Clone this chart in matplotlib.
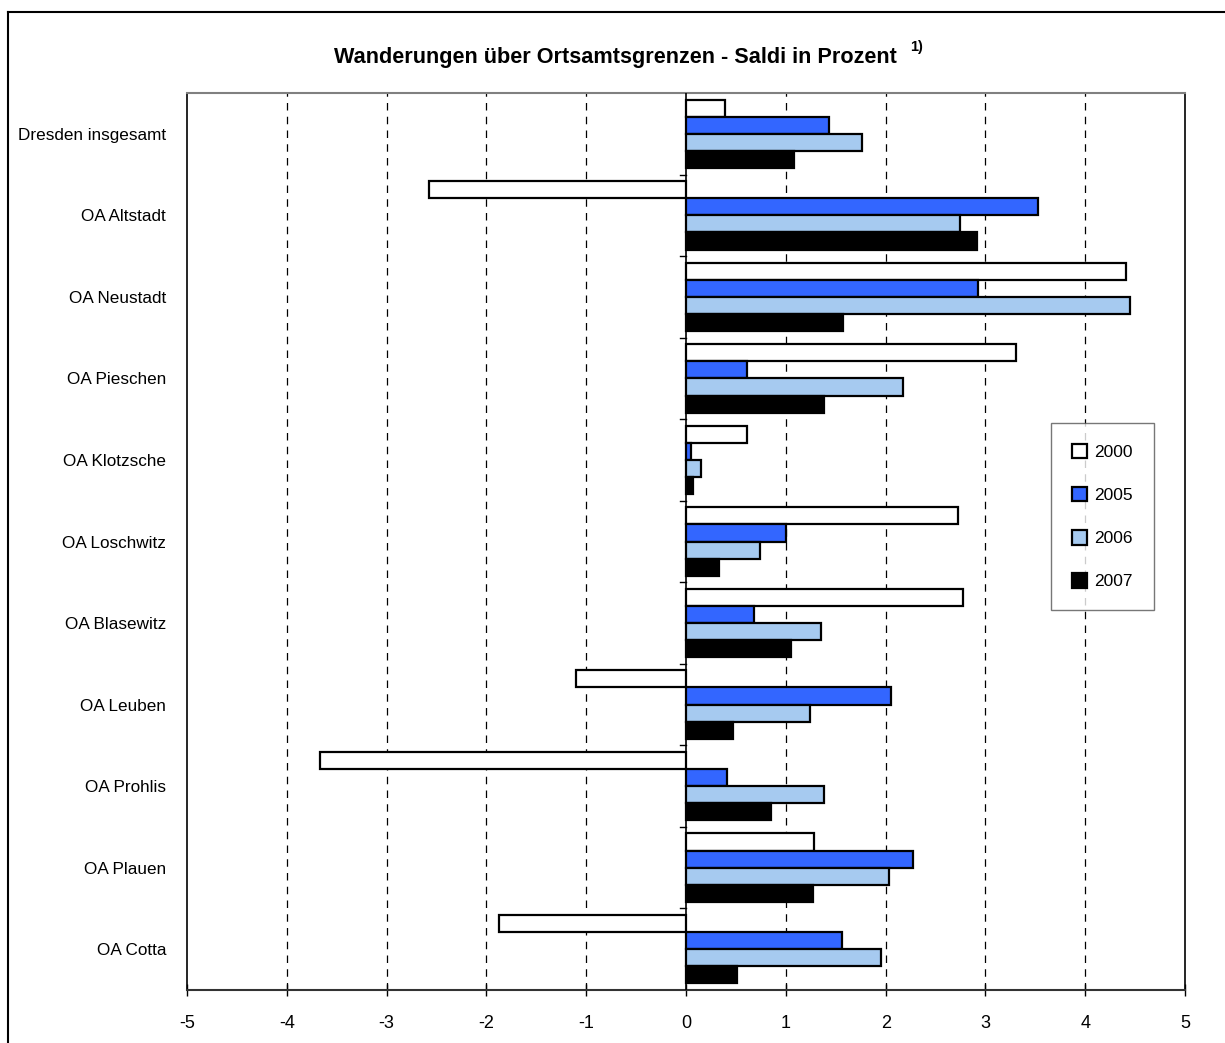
import numpy as np
import matplotlib.pyplot as plt
from matplotlib.lines import Line2D
from matplotlib.patches import Patch

plt.rcParams['font.family'] = ['Liberation Sans Narrow', 'Liberation Sans', 'DejaVu Sans']

# --- DATA ---
districts = ["Dresden insgesamt", "OA Altstadt", "OA Neustadt", "OA Pieschen",
             "OA Klotzsche", "OA Loschwitz", "OA Blasewitz", "OA Leuben",
             "OA Prohlis", "OA Plauen", "OA Cotta"]
years = ["2000", "2005", "2006", "2007"]
v2000 = [0.39, -2.58, 4.41, 3.31, 0.61, 2.72, 2.77, -1.10, -3.67, 1.28, -1.87]
v2005 = [1.43, 3.53, 2.93, 0.61, 0.05, 1.00, 0.68, 2.05, 0.41, 2.27, 1.56]
v2006 = [1.76, 2.74, 4.45, 2.17, 0.15, 0.74, 1.35, 1.24, 1.38, 2.03, 1.95]
v2007 = [1.08, 2.92, 1.57, 1.38, 0.07, 0.33, 1.05, 0.47, 0.85, 1.27, 0.51]
xticks = [-5, -4, -3, -2, -1, 0, 1, 2, 3, 4, 5]

series = [v2000, v2005, v2006, v2007]
colors = ["white", "#3366FF", "#A6CAF0", "black"]

fig = plt.figure(figsize=(12.25, 10.43), dpi=100)
ax = fig.add_axes([0.1527, 0.0508, 0.8147, 0.86])

# outer frame (left and top edges visible)
fig.add_artist(Line2D([0.0065, 0.0065], [0.0, 0.9885], color="black", lw=1.5, transform=fig.transFigure))
fig.add_artist(Line2D([0.0065, 1.0], [0.9885, 0.9885], color="black", lw=1.5, transform=fig.transFigure))

n = len(districts)
bar_h = 0.21
pos = np.arange(n)
for i, (vals, col) in enumerate(zip(series, colors)):
    y = pos - 1.5 * bar_h + i * bar_h
    ax.barh(y, vals, height=bar_h, color=col, edgecolor="black", linewidth=1.6, zorder=3)

# grid
for x in xticks[1:-1]:
    if x != 0:
        ax.axvline(x, color="black", linestyle=(0, (6, 5)), linewidth=0.9, zorder=1)
ax.axvline(0, color="black", linewidth=1.2, zorder=4)

ax.set_xlim(-5, 5)
ax.set_ylim(n - 0.5, -0.5)
ax.set_xticks(xticks)
ax.set_xticklabels([str(t) for t in xticks], fontsize=13)
ax.tick_params(axis="x", direction="inout", length=8, width=1, pad=14)

ax.set_yticks(pos)
ax.set_yticklabels(districts, fontsize=12.3)
ax.tick_params(axis="y", length=0, pad=15)

# small y ticks at category boundaries along zero line
for b in np.arange(0.5, n - 0.5, 1.0):
    ax.plot([-0.06, 0], [b, b], color="black", lw=1, zorder=4)

ax.spines["top"].set_color("#808080")
ax.spines["top"].set_linewidth(1.5)
ax.spines["left"].set_linewidth(1.2)
ax.spines["right"].set_linewidth(1.2)
ax.spines["bottom"].set_linewidth(1.5)
ax.spines["bottom"].set_color("#333333")

fig.text(0.502, 0.945, "Wanderungen über Ortsamtsgrenzen - Saldi in Prozent",
         ha="center", va="center", fontsize=15.6, fontweight="bold")
fig.text(0.743, 0.955, "1)", ha="left", va="center", fontsize=10.5, fontweight="bold")

handles = [Patch(facecolor=c, edgecolor="black", linewidth=1.6) for c in colors]
leg = ax.legend(handles, years, loc="upper left", bbox_to_anchor=(0.8655, 0.632),
                frameon=True, fancybox=False, fontsize=12.5, handlelength=0.9,
                handleheight=0.9, labelspacing=1.55, borderpad=1.2, handletextpad=0.4,
                borderaxespad=0)
leg.get_frame().set_edgecolor("#555555")
leg.get_frame().set_linewidth(1.0)

fig.savefig("out.png", dpi=100)
